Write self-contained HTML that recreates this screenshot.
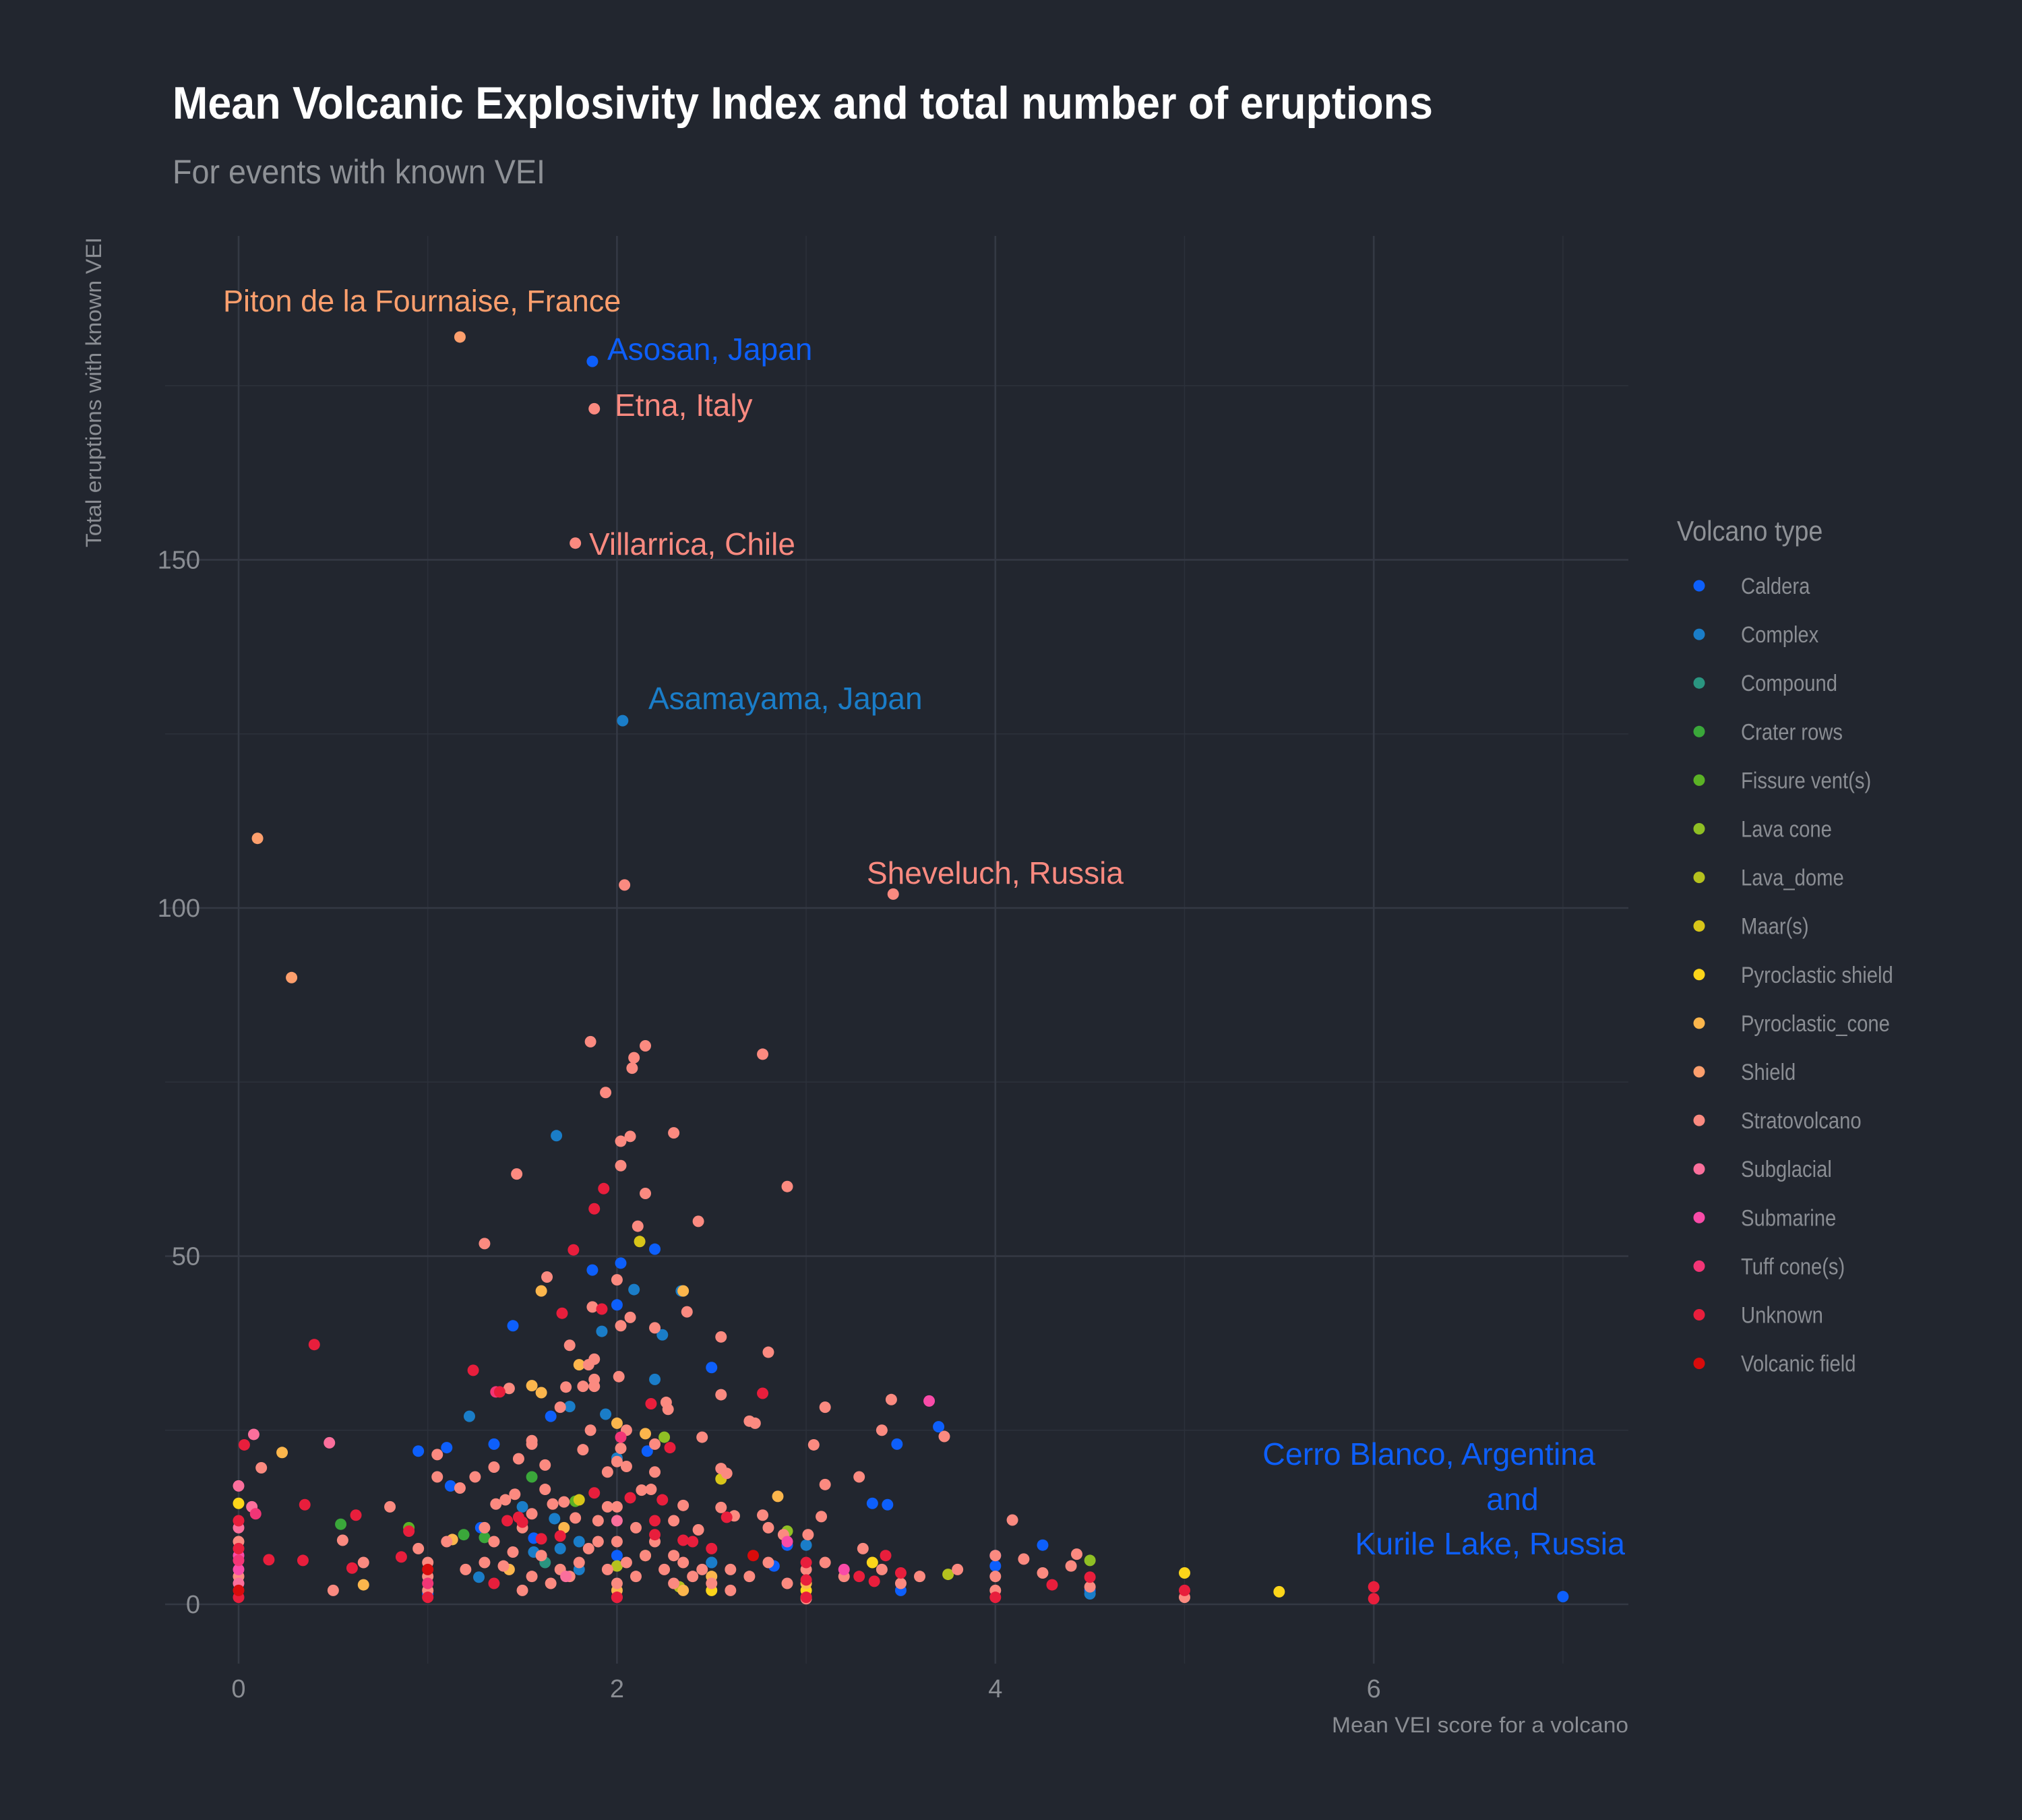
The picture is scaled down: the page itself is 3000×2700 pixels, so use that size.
<!DOCTYPE html>
<html><head><meta charset="utf-8"><style>
html,body{margin:0;padding:0;background:#22262f;}
svg{display:block;}
text{font-family:"Liberation Sans",sans-serif;}
</style></head><body>
<svg id="chart" width="3000" height="2700" viewBox="0 0 3000 2700" xmlns="http://www.w3.org/2000/svg">
<rect width="3000" height="2700" fill="#22262f"/>
<g id="grid"></g>
<g id="points"></g>
<g id="axes"></g>
<text x="256" y="176" font-size="68" font-weight="bold" fill="#ffffff" textLength="1870" lengthAdjust="spacingAndGlyphs">Mean Volcanic Explosivity Index and total number of eruptions</text>
<text x="256" y="272" font-size="50" fill="#8e9196" textLength="553" lengthAdjust="spacingAndGlyphs">For events with known VEI</text>
<text x="2416" y="2570" font-size="32" fill="#8a8d93" text-anchor="end" textLength="440" lengthAdjust="spacingAndGlyphs">Mean VEI score for a volcano</text>
<text transform="translate(150,352) rotate(-90)" font-size="32" fill="#8a8d93" text-anchor="end" textLength="460" lengthAdjust="spacingAndGlyphs">Total eruptions with known VEI</text>
<g id="labels">
<text x="331" y="462" font-size="45" fill="#fd9f6d">Piton de la Fournaise, France</text>
<text x="901" y="534" font-size="46" fill="#0d5ffb">Asosan, Japan</text>
<text x="912" y="617" font-size="46" fill="#fb8a80">Etna, Italy</text>
<text x="874" y="823" font-size="46" fill="#fb8a80">Villarrica, Chile</text>
<text x="962" y="1052" font-size="46" fill="#1a7dc8">Asamayama, Japan</text>
<text x="1286" y="1311" font-size="46" fill="#fb8a80">Sheveluch, Russia</text>
<text x="2367" y="2173" font-size="46.5" fill="#0d5ffb" text-anchor="end">Cerro Blanco, Argentina</text>
<text x="2244" y="2240" font-size="46.5" fill="#0d5ffb" text-anchor="middle">and</text>
<text x="2411" y="2306" font-size="46.5" fill="#0d5ffb" text-anchor="end">Kurile Lake, Russia</text>
</g>
<g id="legend">
<text x="2488" y="802" font-size="42" fill="#8e9196" transform="translate(2488,0) scale(0.9,1) translate(-2488,0)">Volcano type</text>
</g>
</svg>
<script>
const typeNames = ["Caldera","Complex","Compound","Crater rows","Fissure vent(s)","Lava cone","Lava_dome","Maar(s)","Pyroclastic shield","Pyroclastic_cone","Shield","Stratovolcano","Subglacial","Submarine","Tuff cone(s)","Unknown","Volcanic field"];
const typeColors = ["#0d5ffb","#1a7dc8","#2a9580","#3aa73a","#5bb225","#8fbf24","#b5c11e","#d8c519","#fcd51a","#fcb64c","#fd9f6d","#fb8a80","#fb6f9c","#f94ba8","#f23576","#e81e3c","#d80b0b"];
const xTicks = [0,2,4,6];
const yTicks = [0,50,100,150];
const xMinor = [1,3,5,7];
const yMinor = [25,75,125,175];
const calderaPts = [[1.87,178.5],[1.87,48],[2.02,49],[2.0,43],[2.2,51],[1.45,40],[2.5,34],[1.1,22.5],[0.95,22],[1.35,23],[1.65,27],[3.35,14.5],[3.43,14.3],[3.48,23],[3.7,25.5],[4.25,8.5],[2.83,5.5],[2.9,8.5],[3.5,2],[4.5,2],[4.0,7],[4.0,5.5],[1.28,11],[1.0,1.5],[2.0,7],[1.12,17],[2.16,22],[2.5,6],[7,1.1],[1.56,9.5]];
const complexPts = [[2.03,126.9],[1.68,67.3],[1.92,39.2],[1.94,27.3],[2.09,45.2],[2.2,32.3],[1.75,28.4],[1.22,27],[1.67,12.3],[1.5,14],[1.27,3.9],[2.0,21],[2.34,45],[2.24,38.7],[1.8,9],[1.8,5],[3.0,8.5],[2.5,6],[4.5,1.5],[1.56,7.5],[1.7,8]];
const compoundPts = [[1.62,6]];
const craterPts = [[0.54,11.5],[1.55,18.3],[1.3,9.6],[1.19,10]];
const fissurePts = [[0.9,11],[1.78,14.8]];
const lavaConePts = [[2.9,10.5],[4.5,6.3],[2.25,24]];
const lavaDomePts = [[3.75,4.3],[2.15,7],[2.33,2.5],[2.0,5.5]];
const maarPts = [[2.12,52.1],[2.55,18],[1.8,15]];
const pyroShieldPts = [[5.0,4.5],[5.5,1.8],[3.35,6],[2.5,2],[3,2],[0,14.5]];
const pyroConePts = [[2.15,24.5],[1.55,31.4],[1.6,30.4],[0.23,21.8],[1.8,34.4],[1.13,9.3],[0.66,2.8],[2.85,15.5],[2.0,26],[1.72,11],[2.5,4],[3,3],[2.35,2],[3.0,1],[1.43,5],[2.0,2],[1.6,45],[2.35,45]];
const shieldPts = [[1.17,182],[0.1,110],[0.28,90]];
const stratoPts = [[1.88,171.7],[1.78,152.4],[3.46,102],[2.04,103.3],[1.86,80.8],[2.15,80.2],[1.94,73.5],[2.09,78.5],[2.08,77],[2.77,79],[2.07,67.2],[2.02,66.5],[2.3,67.7],[2.02,63],[2.15,59],[2.9,60],[1.47,61.8],[2.43,55],[2.11,54.3],[1.3,51.8],[1.63,47],[2.0,46.6],[1.87,42.7],[2.07,41.2],[2.02,40],[2.2,39.7],[2.37,42],[2.55,38.4],[1.75,37.2],[2.8,36.2],[1.85,34.4],[1.88,35.2],[2.01,32.7],[1.88,32.3],[1.82,31.3],[1.88,31.3],[1.73,31.2],[1.43,31],[1.7,28.3],[2.55,30.1],[3.1,28.3],[3.45,29.4],[2.26,29],[2.27,28],[2.7,26.3],[2.73,26],[3.4,25],[3.73,24.1],[2.45,24],[1.86,25],[2.05,25],[1.55,23.5],[1.55,23],[3.04,22.9],[2.2,23],[2.02,22.4],[1.82,22.2],[1.48,20.9],[1.62,20],[1.05,21.5],[0.12,19.6],[1.05,18.3],[1.25,18.3],[1.35,19.7],[1.95,19],[2.2,19],[2.55,19.5],[2.58,18.8],[3.28,18.3],[2.0,20.5],[2.05,19.8],[1.17,16.7],[1.36,14.4],[1.41,15],[1.46,15.8],[1.62,16.5],[1.66,14.4],[1.72,14.7],[1.95,14],[2.13,16.4],[2.18,16.5],[2.35,14.2],[2.55,13.9],[2.62,12.7],[2.77,12.8],[3.08,12.6],[3.1,17.2],[1.78,12.4],[2.3,12],[2.43,10.7],[2.8,11],[2.88,10],[3.01,10],[4.09,12.1],[0.8,14],[0.55,9.2],[0.66,6],[0.5,2],[1.2,5],[1.3,6],[1.4,5.5],[1.45,7.5],[1.5,2],[1.55,4],[1.6,7],[1.65,3],[1.7,5],[1.75,4],[1.8,6],[1.85,8],[1.9,9],[1.95,5],[2.0,3],[2.05,6],[2.1,4],[2.15,7],[2.2,9],[2.25,5],[2.3,3],[2.35,6],[2.4,4],[2.45,5],[2.5,3],[2.6,5],[2.7,4],[2.8,6],[2.9,3],[3.0,5],[3.1,6],[3.2,4],[3.3,8],[3.4,5],[3.5,3],[3.6,4],[3.8,5],[4.0,7],[4.0,4],[4.0,2],[4.15,6.5],[4.25,4.5],[4.4,5.5],[4.43,7.2],[4.5,2.5],[5,1],[1,2],[1,4],[1,6],[1.1,9],[1.3,11],[1.35,9],[1.5,11],[1.55,13],[0,4],[0,9],[2.0,9],[2.0,14],[2.1,11],[1.9,12],[2.3,7],[2.6,2],[3,0.8],[0.95,8]];
const subglacialPts = [[0.08,24.4],[0.48,23.2],[0,17],[0.07,14],[0.0,11],[0,3],[2.0,12],[1.73,4]];
const submarinePts = [[3.65,29.2],[0,5],[0,7],[3.2,5],[2.9,9]];
const tuffPts = [[1.36,30.5],[0.09,13],[2.02,24],[1.0,3],[2.0,1],[0,6.3]];
const unknownPts = [[1.93,59.7],[1.88,56.8],[1.77,50.9],[1.92,42.4],[1.71,41.8],[1.24,33.6],[1.38,30.5],[2.77,30.3],[0.4,37.3],[2.18,28.8],[2.28,22.5],[0.03,22.9],[0.35,14.3],[0.16,6.4],[0.34,6.3],[0.6,5.2],[0.62,12.8],[0.9,10.5],[0.86,6.8],[2.07,15.3],[2.24,15],[2.58,12.5],[2.35,9.2],[2.4,9],[2.2,10],[3.28,4],[3.5,4.5],[3.42,7],[3.36,3.3],[4.3,2.8],[4.5,3.9],[6,2.5],[6,0.8],[5,2],[4,1],[3,1],[3,6],[3,3.5],[2,1],[1,1],[0,1],[0,8],[0,12],[1.35,3],[1.5,11.8],[1.6,9.4],[1.48,12.5],[1.42,12],[1.7,9.8],[1.88,16],[2.2,12],[2.5,8]];
const fieldPts = [[2.72,7],[0,2],[1,5]];
const seriesPts = [calderaPts,complexPts,compoundPts,craterPts,fissurePts,lavaConePts,lavaDomePts,maarPts,pyroShieldPts,pyroConePts,shieldPts,stratoPts,subglacialPts,submarinePts,tuffPts,unknownPts,fieldPts];

const NS = "http://www.w3.org/2000/svg";
const P = {l:245, r:2416, t:350, b:2468};
function sx(v){ return 354 + v*280.7; }
function sy(c){ return 2380 - c*10.33; }
function mk(tag, attrs, parent){ const e=document.createElementNS(NS,tag); for(const k in attrs) e.setAttribute(k,attrs[k]); parent.appendChild(e); return e; }
const grid=document.getElementById('grid'), pts=document.getElementById('points'), axes=document.getElementById('axes'), legend=document.getElementById('legend');
xMinor.forEach(v=>{ const l=mk('line',{x1:sx(v),x2:sx(v),y1:P.t,y2:P.b,stroke:'#2c313b','stroke-width':1.4},grid);

 });
yMinor.forEach(v=>{ const l=mk('line',{x1:P.l,x2:P.r,y1:sy(v),y2:sy(v),stroke:'#2c313b','stroke-width':1.4},grid);

 });
xTicks.forEach(v=>{ const l=mk('line',{x1:sx(v),x2:sx(v),y1:P.t,y2:P.b,stroke:'#343944','stroke-width':2.6},grid);


const t=mk('text',{x:sx(v),y:2518,'font-size':38,fill:'#8a8d93','text-anchor':'middle'},axes); t.textContent=v;

 });
yTicks.forEach(v=>{ const l=mk('line',{x1:P.l,x2:P.r,y1:sy(v),y2:sy(v),stroke:'#343944','stroke-width':2.6},grid);


const t=mk('text',{x:297,y:sy(v)+13,'font-size':38,fill:'#8a8d93','text-anchor':'end'},axes); t.textContent=v;

 });
seriesPts.forEach((arr,i)=>{ arr.forEach(p=>{ const c=mk('circle',{cx:sx(p[0]),cy:sy(p[1]),r:8.5,fill:typeColors[i]},pts);

 }); });
typeNames.forEach((n,i)=>{ const y=869+i*72.1;
const c=mk('circle',{cx:2521,cy:y,r:8.5,fill:typeColors[i]},legend);


const t=mk('text',{x:0,y:0,'font-size':34,fill:'#8a8d93',transform:'translate(2583,'+(y+12)+') scale(0.86,1)'},legend); t.textContent=n;

 });
</script>
</body></html>
